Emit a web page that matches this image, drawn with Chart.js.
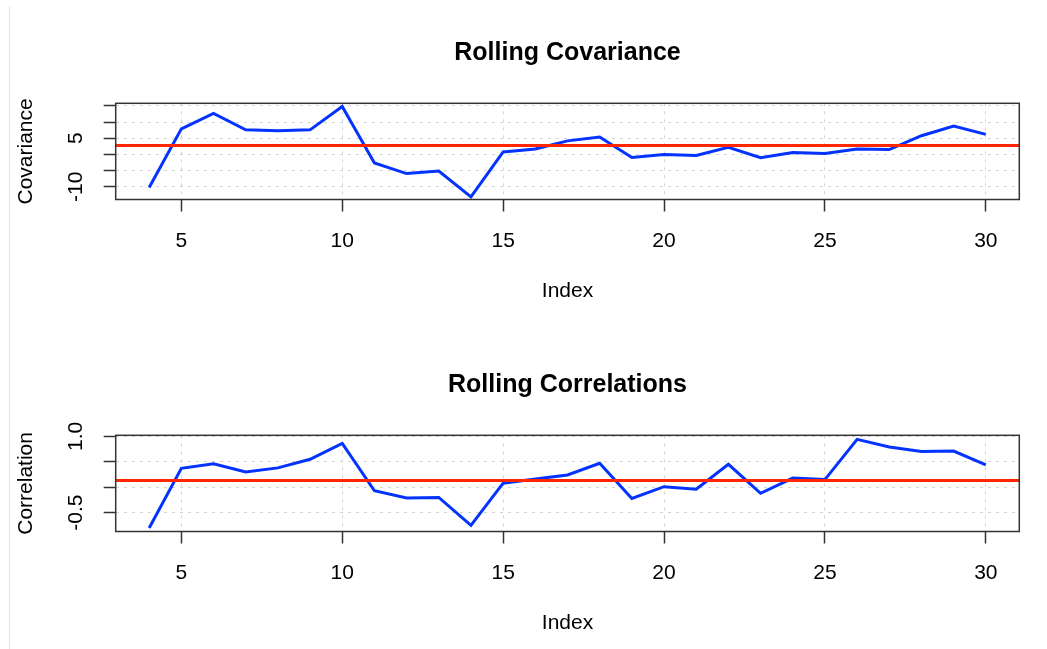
<!DOCTYPE html>
<html>
<head>
<meta charset="utf-8">
<script src="https://cdn.jsdelivr.net/npm/chart.js@4.4.1/dist/chart.umd.min.js"></script>
<style>
  html, body { margin: 0; padding: 0; background: #fff; overflow: hidden; }
  body { width: 1047px; height: 649px; position: relative; }
  .edge { position: absolute; left: 9px; top: 6px; bottom: 0; width: 1px; background: #e3e3e3; }
  canvas { position: absolute; left: 0; }
  #chart-cov { top: 0; }
  #chart-cor { top: 332px; }
</style>
</head>
<body>
<div class="edge"></div>
<canvas id="chart-cov" width="1047" height="332"></canvas>
<canvas id="chart-cor" width="1047" height="332"></canvas>
<script>
// index of the rolling window
const idx = [4, 5, 6, 7, 8, 9, 10, 11, 12, 13, 14, 15, 16, 17, 18, 19, 20, 21, 22, 23, 24, 25, 26, 27, 28, 29, 30];

const covValues = [-10.2, 7.9, 12.7, 7.6, 7.3, 7.6, 14.8, -2.6, -5.9, -5.1, -13.1, 0.8, 1.7, 4.2, 5.4,
  -0.9, 0.0, -0.3, 2.2, -1.0, 0.6, 0.3, 1.7, 1.5, 5.8, 8.8, 6.2];
const corValues = [-0.80, 0.37, 0.46, 0.30, 0.38, 0.55, 0.86, -0.07, -0.21, -0.20, -0.75, 0.08, 0.16, 0.24, 0.47,
  -0.22, 0.01, -0.04, 0.45, -0.12, 0.18, 0.15, 0.94, 0.79, 0.70, 0.71, 0.44];

// reference (red) lines
const covLevel = 2.8;
const corLevel = 0.13;

// axes
const xRange = [2.96, 31.04];
const xTicks = [5, 10, 15, 20, 25, 30];
const xTickLabels = ['5', '10', '15', '20', '25', '30'];

const covRange = [-13.9, 15.8];
const covTicks = [-10, -5, 0, 5, 10, 15];
const covTickLabels = ['-10', '', '', '5', '', ''];

const corRange = [-0.87, 1.02];
const corTicks = [-0.5, 0, 0.5, 1.0];
const corTickLabels = ['-0.5', '', '', '1.0'];

const FONT = '"Liberation Sans", Arial, Helvetica, sans-serif';
const INK = '#333333';

Chart.defaults.font.family = FONT;
Chart.defaults.color = '#000';

const boxPlugin = {
  id: 'box',
  afterDatasetsDraw(chart) {
    const { ctx, chartArea: a } = chart;
    ctx.save();
    ctx.strokeStyle = INK;
    ctx.lineWidth = 1.5;
    ctx.strokeRect(a.left, a.top, a.right - a.left, a.bottom - a.top);
    ctx.restore();
  }
};

function makeChart(id, opts) {
  const ctx = document.getElementById(id).getContext('2d');
  const H = 332;
  return new Chart(ctx, {
    type: 'line',
    data: {
      datasets: [
        {
          data: [{ x: xRange[0], y: opts.level }, { x: xRange[1], y: opts.level }],
          borderColor: '#FF2600',
          borderWidth: 3,
          pointRadius: 0
        },
        {
          data: idx.map((x, i) => ({ x: x, y: opts.values[i] })),
          borderColor: '#0433FF',
          borderWidth: 3,
          pointRadius: 0,
          tension: 0
        }
      ]
    },
    options: {
      responsive: false,
      animation: false,
      layout: { padding: { left: 0, right: 27.7, top: 0, bottom: 0 } },
      plugins: {
        legend: { display: false },
        tooltip: { enabled: false },
        title: {
          display: true,
          fullSize: false,
          text: opts.title,
          font: { size: 25, weight: 'bold', family: FONT },
          color: '#000',
          padding: { top: 38.5, bottom: 34.8 }
        }
      },
      scales: {
        x: {
          type: 'linear',
          bounds: 'data',
          min: xRange[0],
          max: xRange[1],
          afterBuildTicks: s => { s.ticks = xTicks.map(v => ({ value: v })); },
          afterFit: s => { s.height = H - 199.5; },
          ticks: {
            autoSkip: false,
            maxRotation: 0,
            padding: 17,
            font: { size: 21 },
            color: '#000',
            callback: (v, i) => xTickLabels[i]
          },
          grid: {
            color: '#d3d3d3',
            lineWidth: 1,
            tickLength: 12,
            tickColor: INK,
            tickWidth: 1.5,
            tickBorderDash: []
          },
          border: { display: false, dash: [3, 5] },
          title: {
            display: true,
            text: 'Index',
            font: { size: 21 },
            color: '#000',
            padding: { top: 0, bottom: 28.4 }
          }
        },
        y: {
          type: 'linear',
          bounds: 'data',
          min: opts.range[0],
          max: opts.range[1],
          afterBuildTicks: s => { s.ticks = opts.ticks.map(v => ({ value: v })); },
          afterFit: s => { s.width = 115.7; },
          ticks: {
            autoSkip: false,
            minRotation: 90,
            maxRotation: 90,
            crossAlign: 'center',
            padding: opts.tickPad,
            font: { size: 21 },
            color: '#000',
            callback: (v, i) => opts.labels[i]
          },
          grid: {
            color: '#d3d3d3',
            lineWidth: 1,
            tickLength: 12,
            tickColor: INK,
            tickWidth: 1.5,
            tickBorderDash: []
          },
          border: { display: false, dash: [3, 5] },
          title: {
            display: true,
            text: opts.axisTitle,
            font: { size: 21 },
            color: '#000',
            padding: { top: 13.4, bottom: 0 }
          }
        }
      }
    },
    plugins: [boxPlugin]
  });
}

makeChart('chart-cov', {
  title: 'Rolling Covariance',
  axisTitle: 'Covariance',
  values: covValues,
  level: covLevel,
  range: covRange,
  ticks: covTicks,
  labels: covTickLabels,
  tickPad: 12.8
});

makeChart('chart-cor', {
  title: 'Rolling Correlations',
  axisTitle: 'Correlation',
  values: corValues,
  level: corLevel,
  range: corRange,
  ticks: corTicks,
  labels: corTickLabels,
  tickPad: 9.9
});
</script>
</body>
</html>
